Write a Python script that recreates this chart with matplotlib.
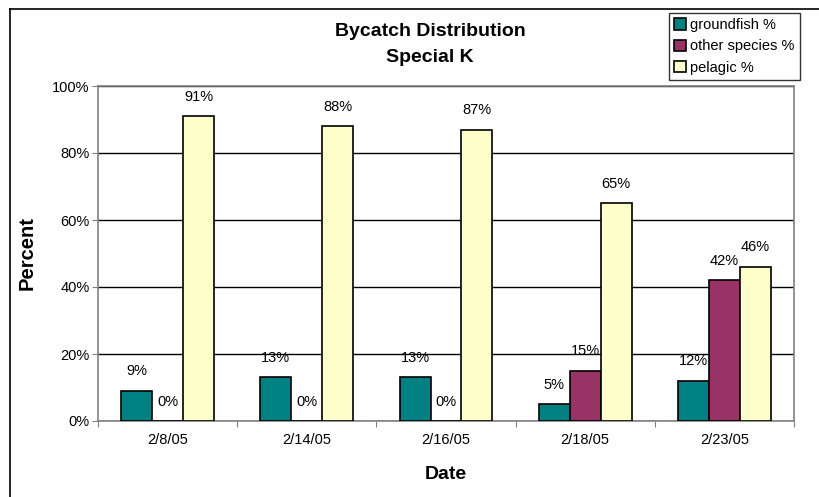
import matplotlib
matplotlib.use("Agg")
import matplotlib.pyplot as plt
import numpy as np
from matplotlib.lines import Line2D
from matplotlib.ticker import FixedLocator, NullFormatter, FixedFormatter

plt.rcParams['font.family'] = ['Liberation Sans', 'DejaVu Sans']

dates = ["2/8/05", "2/14/05", "2/16/05", "2/18/05", "2/23/05"]
groundfish = [9, 13, 13, 5, 12]
other_species = [0, 0, 0, 15, 42]
pelagic = [91, 88, 87, 65, 46]

series_names = ["groundfish %", "other species %", "pelagic %"]
series_colors = ["#008080", "#993366", "#FFFFCC"]
series_values = [groundfish, other_species, pelagic]

W, H = 819, 497
fig = plt.figure(figsize=(W / 100, H / 100), dpi=100)
ax = fig.add_axes([98 / W, 1 - 421 / H, (794 - 98) / W, (421 - 86) / H])

centers = np.arange(len(dates)) + 0.5
bw = 0.222
handles = []
for i, (name, vals, col) in enumerate(zip(series_names, series_values, series_colors)):
    xs = centers + (i - 1) * bw
    bars = ax.bar(xs, vals, width=bw, color=col, edgecolor="black", linewidth=1.2,
                  label=name, zorder=3)
    handles.append(bars)
    for x, v in zip(xs, vals):
        ax.annotate(f"{v}%", (x, v), xytext=(0, 14), textcoords="offset points",
                    ha="center", va="center", fontsize=10.5, zorder=4)

ax.set_xlim(0, len(dates))
ax.set_ylim(0, 100)

ax.xaxis.set_major_locator(FixedLocator(np.arange(len(dates) + 1)))
ax.xaxis.set_major_formatter(NullFormatter())
ax.xaxis.set_minor_locator(FixedLocator(centers))
ax.xaxis.set_minor_formatter(FixedFormatter(dates))
ax.tick_params(axis="x", which="major", direction="out", length=4, color="#808080")
ax.tick_params(axis="x", which="minor", length=0, pad=9, labelsize=10.5)

ax.set_yticks(np.arange(0, 101, 20))
ax.set_yticklabels([f"{v}%" for v in range(0, 101, 20)])
ax.tick_params(axis="y", direction="out", length=4, color="#808080", labelsize=10.5, pad=2)

ax.yaxis.grid(True, color="black", linewidth=1, zorder=0)
ax.set_axisbelow(True)
for s in ax.spines.values():
    s.set_color("#808080")
    s.set_linewidth(1.2)

ax.set_xlabel("Date", fontsize=14, fontweight="bold", labelpad=13)
ax.set_ylabel("Percent", fontsize=14.5, fontweight="bold", labelpad=11)

fig.text(430 / W, 1 - 32 / H, "Bycatch Distribution", ha="center", va="center",
         fontsize=14, fontweight="bold")
fig.text(430 / W, 1 - 58 / H, "Special K", ha="center", va="center",
         fontsize=14, fontweight="bold")

leg = fig.legend(handles=handles, labels=series_names, loc="upper left",
                 bbox_to_anchor=(669 / W, 1 - 13 / H), fontsize=10.5,
                 frameon=True, fancybox=False, handlelength=0.8, handleheight=0.8,
                 handletextpad=0.3, borderpad=0.35, labelspacing=0.5,
                 borderaxespad=0)
leg.get_frame().set_edgecolor("black")
leg.get_frame().set_linewidth(1)

# outer chart border (top and left edges)
fig.add_artist(Line2D([10 / W, 1], [1 - 9 / H, 1 - 9 / H], color="black", linewidth=1.2,
                      transform=fig.transFigure))
fig.add_artist(Line2D([10 / W, 10 / W], [0, 1 - 9 / H], color="black", linewidth=1.2,
                      transform=fig.transFigure))

fig.savefig("out.png", dpi=100)
